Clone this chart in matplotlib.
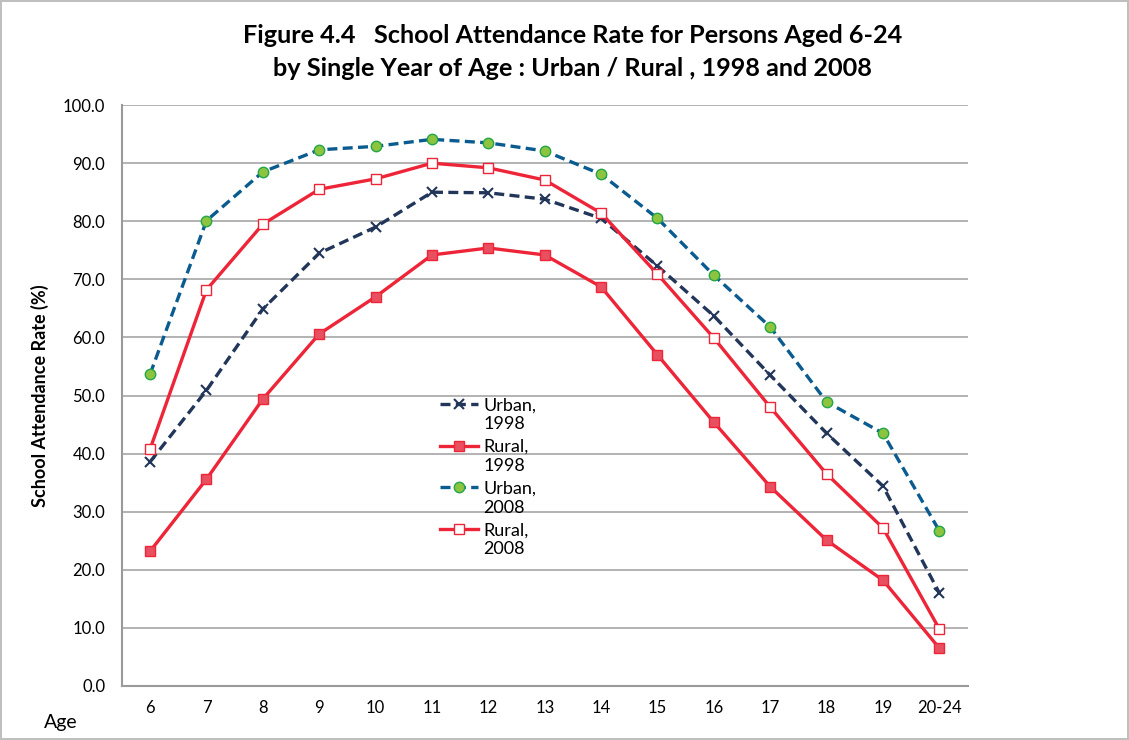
import numpy as np
import matplotlib.pyplot as plt

ages = ["6", "7", "8", "9", "10", "11", "12", "13", "14", "15", "16", "17", "18", "19", "20-24"]
urban_1998 = [38.6, 50.9, 64.9, 74.5, 79.0, 85.0, 84.9, 83.8, 80.5, 72.3, 63.7, 53.5, 43.5, 34.4, 16.0]
rural_1998 = [23.2, 35.6, 49.4, 60.6, 67.0, 74.2, 75.4, 74.2, 68.7, 57.0, 45.4, 34.3, 25.1, 18.2, 6.5]
urban_2008 = [53.7, 80.1, 88.5, 92.3, 92.9, 94.1, 93.5, 92.1, 88.1, 80.5, 70.7, 61.8, 48.9, 43.5, 26.7]
rural_2008 = [40.8, 68.2, 79.5, 85.5, 87.3, 90.0, 89.2, 87.1, 81.4, 70.9, 59.9, 48.0, 36.5, 27.2, 9.8]
series_names = ["Urban,", "Rural,", "Urban,", "Rural,"]
series_years = ["1998", "1998", "2008", "2008"]

plt.rcParams['font.family'] = ['Lato', 'DejaVu Sans']

W, H = 1129, 740
fig = plt.figure(figsize=(W / 100, H / 100), dpi=100)
fig.patch.set_edgecolor('#bfbfbf')
fig.patch.set_linewidth(1.5)
ax = fig.add_axes([0.108, 0.073, 0.749, 0.785])

x = np.arange(len(ages))
red = '#ee2538'
ax.plot(x, urban_1998, color='#22365a', lw=2.4, ls=(0, (3, 1.6)), marker='x',
        ms=7, mew=1.5, mec='#22365a', label=series_names[0], zorder=3)
ax.plot(x, rural_1998, color=red, lw=2.4, marker='s', ms=7.5, mfc='#e9505f',
        mec=red, mew=1, label=series_names[1], zorder=3)
ax.plot(x, urban_2008, color='#0a5b8f', lw=2.4, ls=(0, (3, 1.6)), marker='o',
        ms=7.5, mfc='#8cc43f', mec='#23a64a', mew=1, label=series_names[2], zorder=3)
ax.plot(x, rural_2008, color=red, lw=2.4, marker='s', ms=7.5, mfc='white',
        mec=red, mew=1, label=series_names[3], zorder=3)

ax.set_xlim(-0.5, len(ages) - 0.5)
ax.set_ylim(0, 100)
ax.set_xticks(x)
ax.set_xticklabels(ages)
ax.set_yticks(np.arange(0, 101, 10))
ax.set_yticklabels([f"{v:.1f}" for v in np.arange(0, 101, 10)])
ax.tick_params(axis='both', length=0, labelsize=12, pad=10)
ax.tick_params(axis='y', pad=12)
ax.yaxis.grid(True, color='#a6a6a6', lw=1.2)
ax.set_axisbelow(True)
for s in ['top', 'right']:
    ax.spines[s].set_visible(False)
for s in ['left', 'bottom']:
    ax.spines[s].set_color('#9a9a9a')
    ax.spines[s].set_linewidth(1.5)

ax.set_ylabel("School Attendance Rate (%)", fontsize=13, fontweight='bold', labelpad=10)
fig.text(0.039, 0.024, "Age", fontsize=14, ha='left', va='center')

fig.text(0.507, 0.952, "Figure 4.4   School Attendance Rate for Persons Aged 6-24",
         fontsize=18.2, fontweight='bold', ha='center', va='center')
fig.text(0.507, 0.907, "by Single Year of Age : Urban / Rural , 1998 and 2008",
         fontsize=18.2, fontweight='bold', ha='center', va='center')

leg = ax.legend(loc='upper left', bbox_to_anchor=(0.376, 0.497), frameon=False, fontsize=13,
                handlelength=2.1, labelspacing=1.42, handletextpad=0.3, borderaxespad=0,
                borderpad=0)

# second line of each legend label sits under the first, handle stays on the first line
fig.canvas.draw()
for txt, yr in zip(leg.get_texts(), series_years):
    bb = txt.get_window_extent()
    fig.text(bb.x0 / W, (bb.y0 - 3) / H, yr, ha='left', va='top', fontsize=13)

fig.savefig("out.png", dpi=100)
